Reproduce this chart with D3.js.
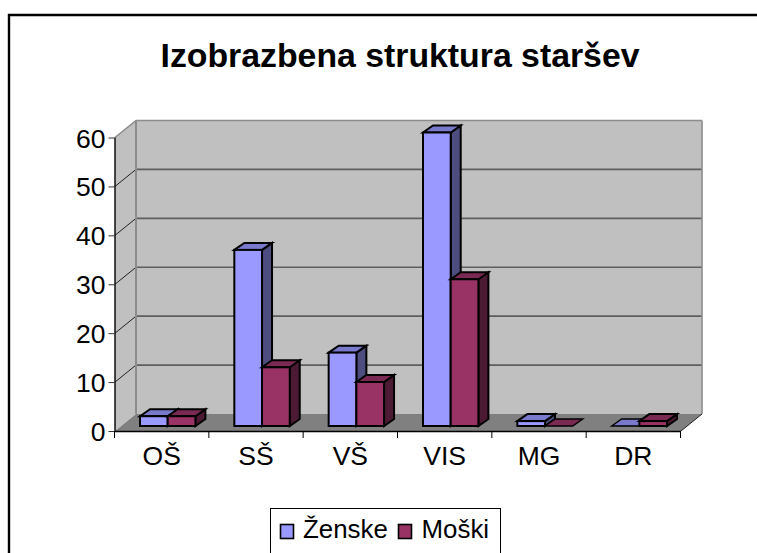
<!DOCTYPE html>
<html><head><meta charset="utf-8">
<script src="https://cdn.jsdelivr.net/npm/d3@7"></script>
<style>html,body{margin:0;padding:0;background:#fff}svg{display:block}text{font-family:"Liberation Sans",Arial,sans-serif;fill:#000}</style>
</head><body><svg id="c" width="757" height="553"></svg>
<script>
const categories = ["OŠ","SŠ","VŠ","VIS","MG","DR"];
const seriesNames = ["Ženske","Moški"];
const zenske = [2,36,15,60,1,0];
const moski = [2,12,9,30,0,1];
const yTicks = [0,10,20,30,40,50,60];
const chartTitle = "Izobrazbena struktura staršev";
const faceColors = ["#9999FF","#993366"];
const topColors = ["#7A7ACC","#7A2952"];
const sideColors = ["#4D4D80","#4D1A33"];

const svg = d3.select("#c");
const W = 115, E = 681, Y0 = 431, Y60 = 137.5;
const DX = 21, DY = -17;
const x = d3.scaleBand().domain(categories).range([W-0.5,E-0.5]).paddingInner(0).paddingOuter(0);
const y = d3.scaleLinear().domain([0,60]).range([Y0,Y60]);
const step = x.bandwidth();
const pts = a => a.map(p=>p.join(",")).join(" ");

// chart border
svg.append("path").attr("d","M9 553V15H757").attr("fill","none").attr("stroke","#000").attr("stroke-width",2.4);

svg.append("text").attr("x",400).attr("y",67).attr("text-anchor","middle")
  .attr("font-size",33.8).attr("font-weight","bold").text(chartTitle);

// walls
svg.append("polygon").attr("points",pts([[W,Y60],[W+DX,Y60+DY],[W+DX,Y0+DY],[W,Y0]])).attr("fill","#C0C0C0");
svg.append("rect").attr("x",W+DX).attr("y",Y60+DY).attr("width",E-W).attr("height",Y0-Y60).attr("fill","#C0C0C0");
svg.append("polygon").attr("points",pts([[W,Y0],[W+DX,Y0+DY],[E+DX,Y0+DY],[E,Y0]])).attr("fill","#808080");

// gridlines
const gridTicks = yTicks.filter(t=>t>0);
svg.selectAll(".gb").data(gridTicks).join("line")
  .attr("x1",W+DX).attr("x2",E+DX).attr("y1",d=>y(d)+DY).attr("y2",d=>y(d)+DY)
  .attr("stroke",d=>d===60?"#8C8C8C":"#5E5E5E").attr("stroke-width",1.6);
svg.selectAll(".gl").data(gridTicks).join("line")
  .attr("x1",W).attr("x2",W+DX).attr("y1",d=>y(d)).attr("y2",d=>y(d)+DY)
  .attr("stroke",d=>d===60?"#8C8C8C":"#222").attr("stroke-width",d=>d===60?1.6:1);
svg.append("line").attr("x1",W+DX).attr("x2",W+DX).attr("y1",Y60+DY).attr("y2",Y0+DY).attr("stroke","#8C8C8C").attr("stroke-width",2);
svg.append("line").attr("x1",E+DX).attr("x2",E+DX).attr("y1",Y60+DY).attr("y2",Y0+DY).attr("stroke","#8C8C8C").attr("stroke-width",1.6);
svg.append("line").attr("x1",E).attr("x2",E+DX).attr("y1",Y0).attr("y2",Y0+DY).attr("stroke","#222").attr("stroke-width",1);

// bars
const BX = 25.5, BW = 27.7, LIFT = 5, BDX = 10, BDY = -7;
function bar(cat, val, s){
  const l = x(cat)+BX+s*BW, r = l+BW;
  const b = y(0)-LIFT, t = y(val)-LIFT;
  const g = svg.append("g").attr("stroke","#000").attr("stroke-width",2).attr("stroke-linejoin","miter");
  if(val>0){
    g.append("polygon").attr("points",pts([[r,t],[r+BDX,t+BDY],[r+BDX,b+BDY],[r,b]])).attr("fill",sideColors[s]);
    g.append("polygon").attr("points",pts([[l,t],[l+BDX,t+BDY],[r+BDX,t+BDY],[r,t]])).attr("fill",topColors[s]);
    g.append("rect").attr("x",l).attr("y",t).attr("width",BW).attr("height",b-t).attr("fill",faceColors[s]);
  } else {
    g.append("polygon").attr("points",pts([[l,b],[l+BDX,b+BDY],[r+BDX,b+BDY],[r,b]])).attr("fill",topColors[s]).attr("stroke-width",1.4);
  }
}
categories.forEach((c,i)=>{ bar(c,zenske[i],0); bar(c,moski[i],1); });

// axes
const yAxis = d3.axisLeft(y).tickValues(yTicks).tickSize(6).tickPadding(3);
const gy = svg.append("g").attr("transform",`translate(${W-0.5},0)`).call(yAxis);
gy.select(".domain").attr("d",`M0.5 ${Y60}V${Y0}`).attr("stroke","#000").attr("stroke-width",1.4);
gy.selectAll("line").attr("stroke","#333").attr("stroke-width",1);
gy.selectAll("text").attr("font-size",26.5).attr("font-family","Liberation Sans").attr("dy","0.36em");

const xAxis = d3.axisBottom(x).tickSize(0).tickPadding(15);
const gx = svg.append("g").attr("transform",`translate(0,${Y0})`).call(xAxis);
gx.select(".domain").attr("d",`M${W-0.5} 0.5H${E}`).attr("stroke","#000").attr("stroke-width",1.6);
gx.selectAll("text").attr("font-size",26.5).attr("font-family","Liberation Sans");
svg.selectAll(".xt").data(d3.range(categories.length+1)).join("line")
  .attr("x1",d=>W-0.5+d*step).attr("x2",d=>W-0.5+d*step).attr("y1",Y0).attr("y2",Y0+7)
  .attr("stroke","#000").attr("stroke-width",1);

// legend
svg.append("rect").attr("x",270.5).attr("y",508.5).attr("width",230).attr("height",60).attr("fill","#fff").attr("stroke","#000").attr("stroke-width",1);
const legX = [280.5,398.5], txtX = [303,421.5];
seriesNames.forEach((n,i)=>{
  svg.append("rect").attr("x",legX[i]).attr("y",524.5).attr("width",13).attr("height",14).attr("fill",faceColors[i]).attr("stroke","#000").attr("stroke-width",1.6);
  svg.append("text").attr("x",txtX[i]).attr("y",538).attr("font-size",25.9).text(n);
});
</script></body></html>
